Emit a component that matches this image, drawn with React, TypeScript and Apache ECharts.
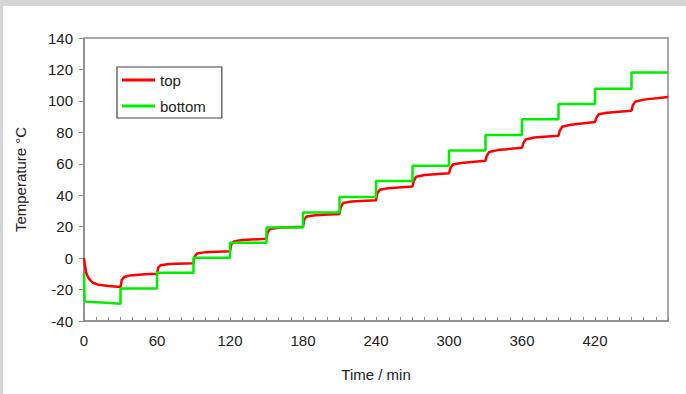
import React, { useEffect, useRef } from "react";
import * as echarts from "echarts";

// top sensor (red)
const topTime = [
  0, 1, 2, 4, 7, 12, 20, 30,
  31, 33, 38, 50, 60,
  61, 63, 70, 90,
  91, 93, 100, 120,
  121, 123, 130, 150,
  151, 153, 160, 180,
  181, 183, 190, 210,
  211, 213, 220, 240,
  241, 243, 250, 270,
  271, 273, 280, 300,
  301, 303, 310, 330,
  331, 333, 340, 360,
  361, 363, 370, 390,
  391, 393, 400, 420,
  421, 423, 430, 450,
  451, 453, 460, 480,
];
const topTemp = [
  0, -6, -10, -13, -15.5, -17, -17.8, -18.3,
  -14, -12, -11, -10.3, -10,
  -6, -4.5, -3.8, -3.2,
  1, 3, 3.8, 4.3,
  8.5, 10.5, 11.5, 12.3,
  16.5, 18.5, 19.3, 20,
  24.5, 26.5, 27.3, 28,
  32.5, 35, 36, 36.8,
  41, 43.5, 44.5, 45.5,
  49, 51.8, 52.8, 54,
  57, 59.5, 60.5, 62,
  65, 67.5, 68.7, 70.2,
  73, 75.5, 76.7, 77.8,
  81, 83.5, 84.8, 86.5,
  89, 91.5, 92.5, 93.7,
  97, 99.5, 100.8, 102.5,
];

// bottom sensor (green)
const bottomTime = [
  0, 0.5, 2, 15, 30,
  30, 60, 60, 90, 90, 120, 120, 150, 150, 180, 180, 210, 210, 240,
  240, 270, 270, 300, 300, 330, 330, 360, 360, 390, 390, 420, 420, 450,
  450, 480,
];
const bottomTemp = [
  -10, -27, -27.8, -28.3, -29,
  -19.3, -19.3, -9.3, -9.3, 0.3, 0.3, 9.8, 9.8, 19.5, 19.5, 29, 29, 38.8, 38.8,
  49, 49, 58.7, 58.7, 68.5, 68.5, 78.3, 78.3, 88.3, 88.3, 98, 98, 107.8, 107.8,
  118, 118,
];

const seriesNames = ["top", "bottom"];
const seriesColors = ["#ff0000", "#00ee00"];

const FONT = "'Liberation Sans', Arial, sans-serif";

export default function App() {
  const ref = useRef<HTMLDivElement>(null);
  useEffect(() => {
    document.body.style.margin = "0";
    const chart = echarts.init(ref.current!, null, { renderer: "svg" });
    const pair = (t: number[], v: number[]) => t.map((x, i) => [x, v[i]]);
    chart.setOption({
      animation: false,
      backgroundColor: "#ffffff",
      textStyle: { fontFamily: FONT },
      graphic: [
        { type: "rect", shape: { x: 0, y: 0, width: 686, height: 6 }, style: { fill: "#d4d4d4" }, silent: true },
        { type: "rect", shape: { x: 0, y: 0, width: 3, height: 394 }, style: { fill: "#d4d4d4" }, silent: true },
      ],
      grid: {
        left: 84,
        top: 38,
        right: 18,
        bottom: 73,
        show: true,
        borderColor: "#8c8c8c",
        borderWidth: 1.5,
      },
      legend: {
        orient: "vertical",
        left: 117,
        top: 67,
        backgroundColor: "#ffffff",
        borderColor: "#444444",
        borderWidth: 1.2,
        padding: [5, 16, 4, 5],
        itemWidth: 33,
        itemHeight: 3,
        itemGap: 10,
        textStyle: { fontSize: 15, color: "#222", fontFamily: FONT, lineHeight: 16 },
        data: seriesNames.map((n, i) => ({ name: n, icon: "rect", itemStyle: { color: seriesColors[i] } })),
      },
      xAxis: {
        type: "value",
        min: 0,
        max: 480,
        interval: 60,
        name: "Time / min",
        nameLocation: "middle",
        nameGap: 46,
        nameTextStyle: { fontSize: 15, color: "#222", fontFamily: FONT },
        axisLine: { show: true, onZero: false, lineStyle: { color: "#8c8c8c", width: 1.5 } },
        axisTick: { show: true, inside: true, length: 4, lineStyle: { color: "#8c8c8c" } },
        minorTick: { show: true, splitNumber: 6, length: 4, lineStyle: { color: "#8c8c8c" } },
        splitLine: { show: false },
        axisLabel: {
          fontSize: 15,
          color: "#222",
          fontFamily: FONT,
          margin: 12,
          formatter: (v: number) => (v === 480 ? "" : String(v)),
        },
      },
      yAxis: {
        type: "value",
        min: -40,
        max: 140,
        interval: 20,
        name: "Temperature °C",
        nameLocation: "middle",
        nameGap: 56,
        nameTextStyle: { fontSize: 15, color: "#222", fontFamily: FONT },
        axisLine: { show: true, onZero: false, lineStyle: { color: "#8c8c8c", width: 1.5 } },
        axisTick: { show: true, inside: false, length: 5, lineStyle: { color: "#8c8c8c" } },
        splitLine: { show: false },
        axisLabel: { fontSize: 15, color: "#222", fontFamily: FONT, margin: 11 },
      },
      series: [
        {
          name: seriesNames[0],
          type: "line",
          data: pair(topTime, topTemp),
          showSymbol: false,
          symbol: "none",
          lineStyle: { color: seriesColors[0], width: 2.5 },
          itemStyle: { color: seriesColors[0] },
        },
        {
          name: seriesNames[1],
          type: "line",
          data: pair(bottomTime, bottomTemp),
          showSymbol: false,
          symbol: "none",
          lineStyle: { color: seriesColors[1], width: 2.5 },
          itemStyle: { color: seriesColors[1] },
        },
      ],
    });
    return () => chart.dispose();
  }, []);
  return <div ref={ref} style={{ width: 686, height: 394 }} />;
}
